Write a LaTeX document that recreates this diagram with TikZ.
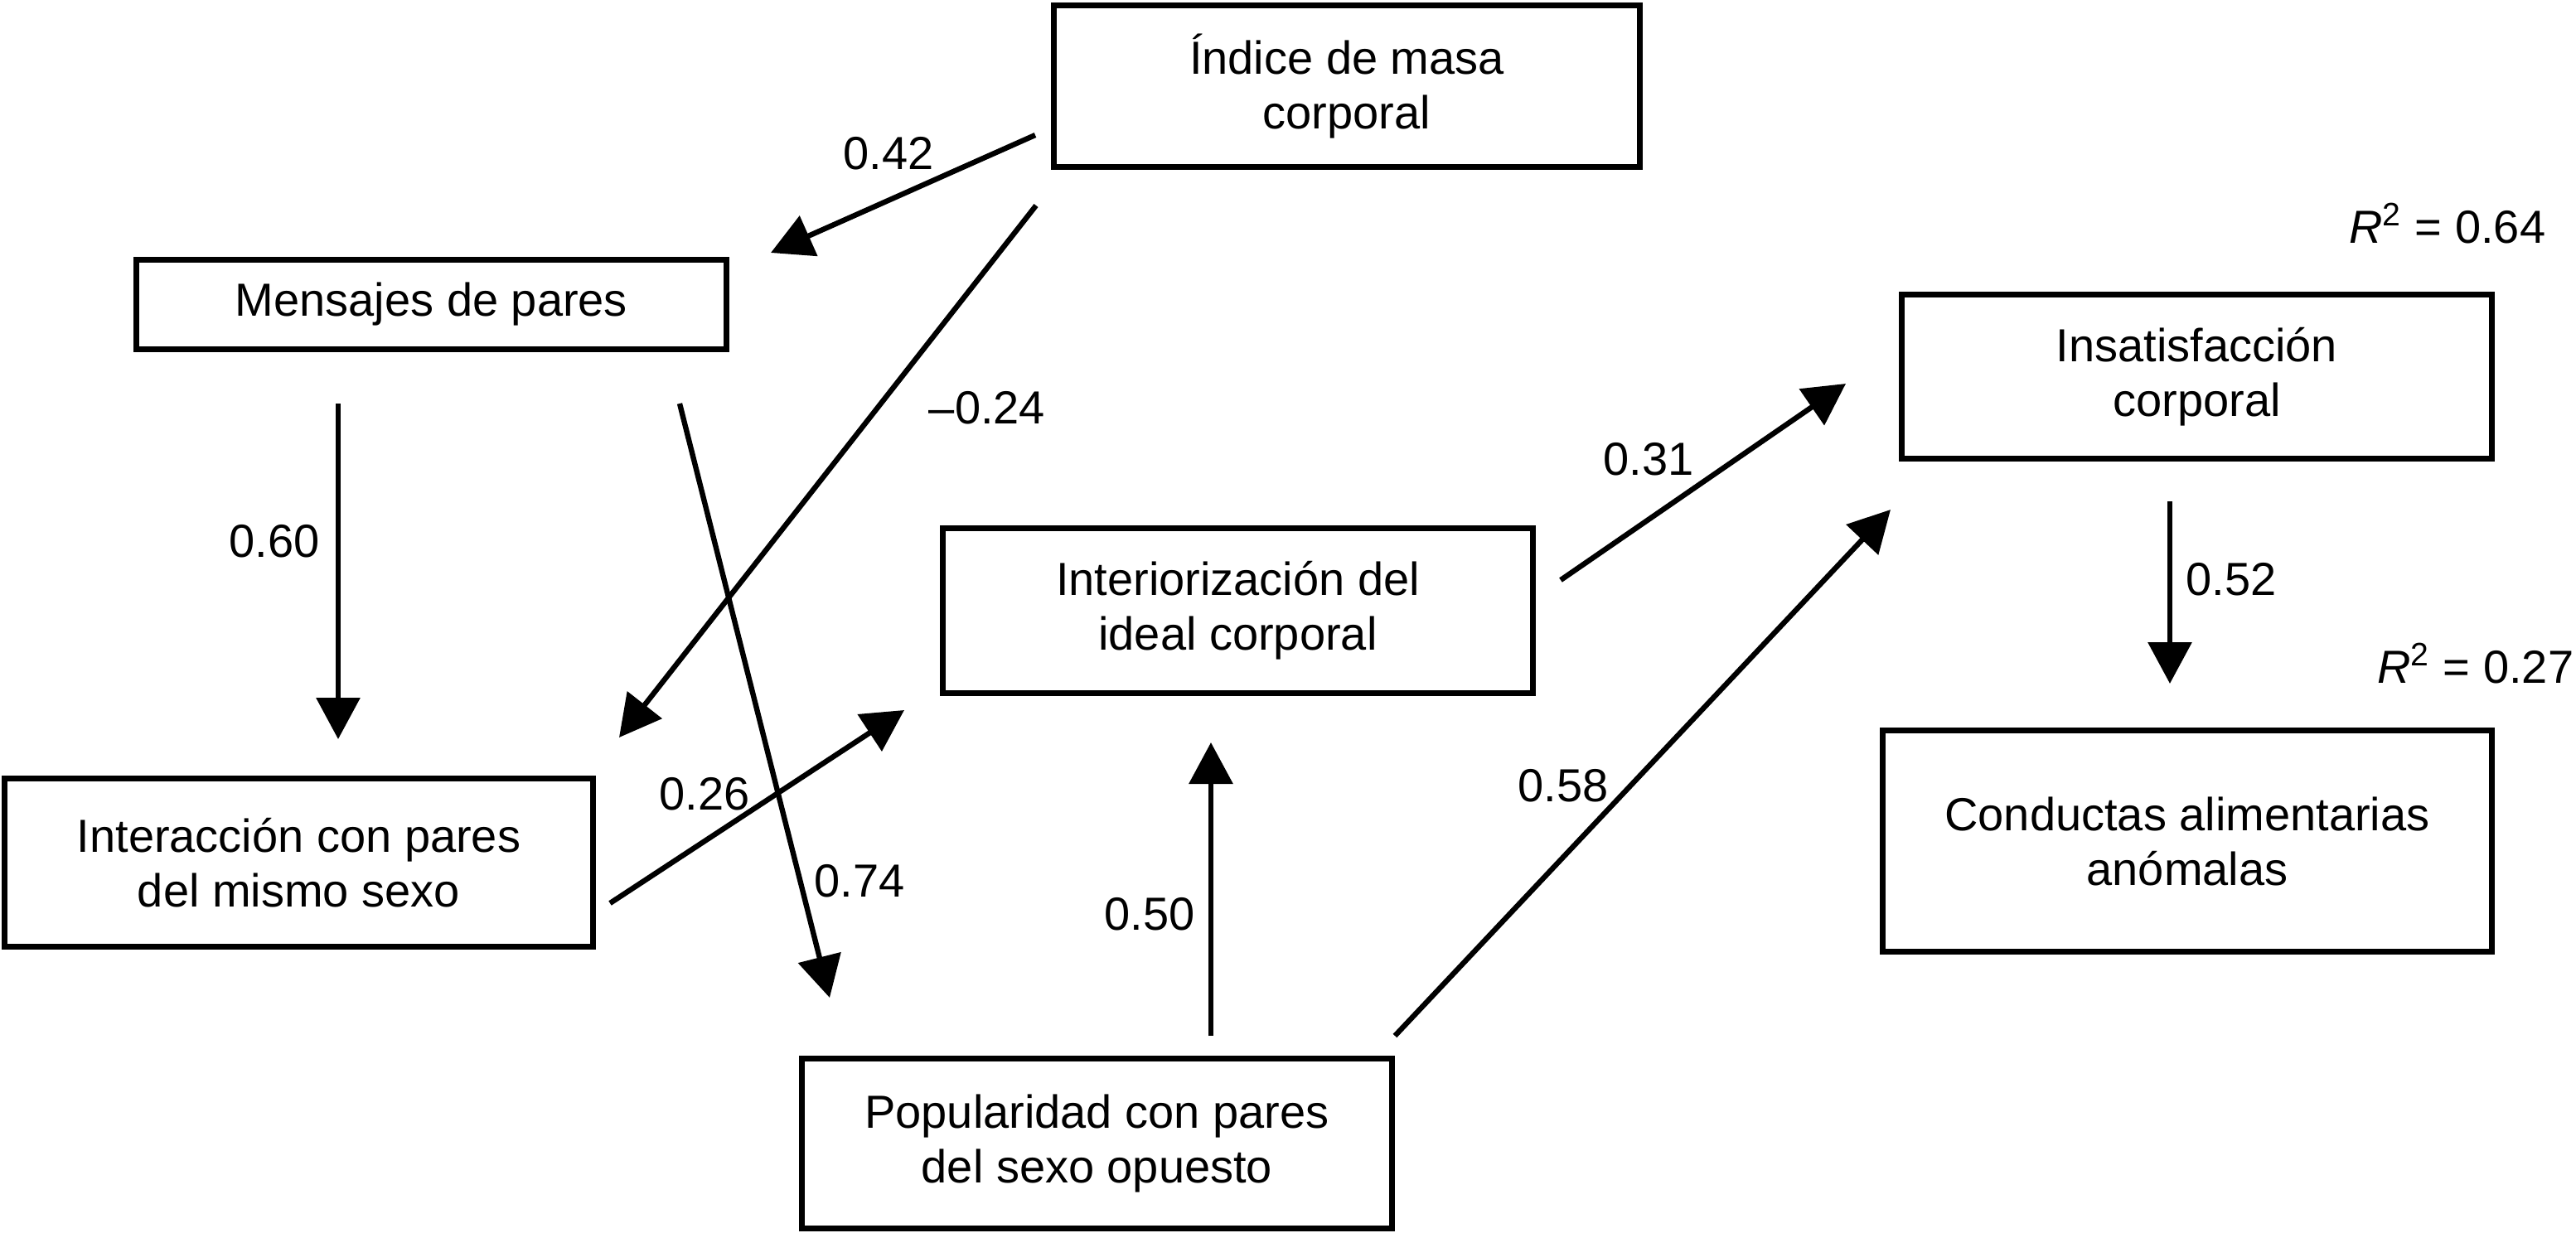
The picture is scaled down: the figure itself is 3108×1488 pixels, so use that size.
\documentclass[tikz,border=0pt]{standalone}
\usepackage{fontspec}
\setmainfont{Liberation Sans}
\usetikzlibrary{arrows.meta}
\begin{document}
\begin{tikzpicture}[x=0.25pt,y=-0.25pt,
  box/.style={draw, line width=1.75pt, align=center, inner sep=0pt,
    font=\fontsize{14pt}{16.5pt}\selectfont},
  lbl/.style={font=\fontsize{14pt}{16.5pt}\selectfont, inner sep=0pt},
  conn/.style={line width=1.6pt, -{Triangle[length=12.5pt,width=13pt]}}]
\useasboundingbox (0,0) rectangle (3108,1488);
\fill[white] (0,0) rectangle (3108,1488);

% boxes
\node[box, minimum width=176.75pt, minimum height=48.75pt] (imc) at (1625,104) {Índice de masa\\corporal};
\node[box, minimum width=178pt, minimum height=27pt] (men) at (520.5,367.5) {Mensajes de pares};
\node[box, minimum width=178pt, minimum height=49.5pt] (ins) at (2650.5,454.5) {Insatisfacción\\corporal};
\node[box, minimum width=183.75pt, minimum height=66.75pt] (con) at (2639,1015) {Conductas alimentarias\\anómalas};
\node[box, minimum width=178pt, minimum height=49.75pt] (int) at (1493.5,737) {Interiorización del\\ideal corporal};
\node[box, minimum width=177.5pt, minimum height=50.75pt] (ipm) at (360.5,1041) {Interacción con pares\\del mismo sexo};
\node[box, minimum width=178pt, minimum height=51.25pt] (pop) at (1323.5,1380) {Popularidad con pares\\del sexo opuesto};

% connector end points
\coordinate (a1s) at (1249,163);  \coordinate (a1e) at (930,305);
\coordinate (a2s) at (1250,248);  \coordinate (a2e) at (747,890);
\coordinate (a3s) at (408,487);   \coordinate (a3e) at (408,892);
\coordinate (a4s) at (820,487);   \coordinate (a4e) at (1001,1204);
\coordinate (a5s) at (736,1090);  \coordinate (a5e) at (1091,857);
\coordinate (a6s) at (1461,1250); \coordinate (a6e) at (1461,896);
\coordinate (a7s) at (1883,700);  \coordinate (a7e) at (2227,463);
\coordinate (a8s) at (1683,1250); \coordinate (a8e) at (2281,615);
\coordinate (a9s) at (2618,605);  \coordinate (a9e) at (2618,825);

% connectors
\draw[conn] (a1s) -- (a1e);
\draw[conn] (a2s) -- (a2e);
\draw[conn] (a3s) -- (a3e);
\draw[conn] (a4s) -- (a4e);
\draw[conn] (a5s) -- (a5e);
\draw[conn] (a6s) -- (a6e);
\draw[conn] (a7s) -- (a7e);
\draw[conn] (a8s) -- (a8e);
\draw[conn] (a9s) -- (a9e);

% labels
\node[lbl] (l042) at (1072,185) {0.42};
\node[lbl] (l024) at (1191,492) {–0.24};
\node[lbl] (l060) at (331,653) {0.60};
\node[lbl] (l074) at (1037,1063) {0.74};
\node[lbl] (l026) at (850,958) {0.26};
\node[lbl] (l050) at (1387,1103) {0.50};
\node[lbl] (l031) at (1989,554) {0.31};
\node[lbl] (l058) at (1886,948) {0.58};
\node[lbl] (l052) at (2692,699) {0.52};
\node[lbl, anchor=base east] (r064) at (3072,293) {\itshape R\/\upshape\textsuperscript{2} = 0.64};
\node[lbl, anchor=base east] (r027) at (3106,824) {\itshape R\/\upshape\textsuperscript{2} = 0.27};
\end{tikzpicture}
\end{document}
